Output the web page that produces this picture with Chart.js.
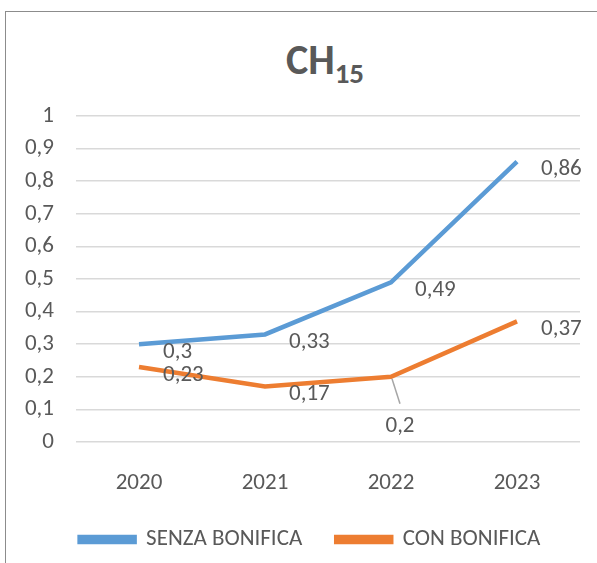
<!DOCTYPE html>
<html>
<head>
<meta charset="utf-8">
<script src="https://cdn.jsdelivr.net/npm/chart.js@4"></script>
<style>
  html, body { margin: 0; padding: 0; background: #fff; }
  #wrap { position: relative; width: 597px; height: 563px; overflow: hidden; }
  #frame { position: absolute; left: 5px; top: 11px; width: 640px; height: 600px; border: 1.5px solid #8c8c8c; box-sizing: border-box; }
  #title { position: absolute; left: 0; width: 650px; top: 34px; text-align: center; font-family: Carlito, Lato, sans-serif; font-weight: bold; font-size: 42px; color: #595959; }
  #title sub { font-size: 29px; vertical-align: -9px; line-height: 0; }
  canvas { position: absolute; left: 0; top: 0; }
</style>
</head>
<body>
<div id="wrap">
  <div id="frame"></div>
  <div id="title">CH<sub>15</sub></div>
  <canvas id="ch" width="597" height="563"></canvas>
</div>
<script>
// chart data
const years = ['2020', '2021', '2022', '2023'];
const senzaBonifica = [0.3, 0.33, 0.49, 0.86];
const conBonifica = [0.23, 0.17, 0.2, 0.37];
const yTicks = [0, 0.1, 0.2, 0.3, 0.4, 0.5, 0.6, 0.7, 0.8, 0.9, 1];

const textColor = '#595959';
const fontFamily = 'Carlito, Lato, sans-serif';
const fontSize = 23;

// numbers with comma as decimal separator
function itNum(v) {
    return String(Math.round(v * 100) / 100).replace('.', ',');
}

// value labels to the right of each point
const valueLabels = {
    id: 'valueLabels',
    afterLayout(chart) {
        // center the legend under the plot instead of the whole canvas
        chart.legend.left = 40;
    },
    afterDatasetsDraw(chart) {
        const ctx = chart.ctx;
        ctx.save();
        ctx.font = fontSize + 'px ' + fontFamily;
        ctx.fillStyle = textColor;
        ctx.textBaseline = 'middle';
        ctx.textAlign = 'left';
        chart.data.datasets.forEach((ds, i) => {
            const meta = chart.getDatasetMeta(i);
            meta.data.forEach((pt, j) => {
                const txt = itNum(ds.data[j]);
                if (i === 1 && j === 2) {
                    // moved below the line, with a leader line
                    ctx.strokeStyle = '#a6a6a6';
                    ctx.lineWidth = 1.5;
                    ctx.beginPath();
                    ctx.moveTo(pt.x + 1, pt.y + 2);
                    ctx.lineTo(pt.x + 9, pt.y + 27);
                    ctx.stroke();
                    ctx.textAlign = 'center';
                    ctx.fillText(txt, pt.x + 9, pt.y + 49);
                    ctx.textAlign = 'left';
                } else {
                    ctx.fillText(txt, pt.x + 24, pt.y + 8);
                }
            });
        });
        ctx.restore();
    }
};

new Chart(document.getElementById('ch'), {
    type: 'line',
    data: {
        labels: years,
        datasets: [
            {
                label: 'SENZA BONIFICA',
                data: senzaBonifica,
                borderColor: '#5B9BD5',
                backgroundColor: '#5B9BD5',
                borderWidth: 4.5,
                pointRadius: 0,
                tension: 0
            },
            {
                label: 'CON BONIFICA',
                data: conBonifica,
                borderColor: '#ED7D31',
                backgroundColor: '#ED7D31',
                borderWidth: 4.5,
                pointRadius: 0,
                tension: 0
            }
        ]
    },
    options: {
        responsive: false,
        animation: false,
        layout: { padding: { left: 10, right: 17, top: 116, bottom: 2 } },
        plugins: {
            title: { display: false },
            tooltip: { enabled: false },
            legend: {
                position: 'bottom',
                labels: {
                    boxWidth: 55,
                    boxHeight: 5,
                    padding: 34,
                    color: textColor,
                    font: { family: fontFamily, size: fontSize }
                }
            }
        },
        scales: {
            x: {
                offset: true,
                grid: { display: false, drawTicks: false },
                border: { display: false },
                ticks: { color: textColor, font: { family: fontFamily, size: fontSize }, padding: 27 },
                afterFit(s) { s.height = 52; }
            },
            y: {
                min: 0,
                max: 1,
                afterBuildTicks(s) { s.ticks = yTicks.map(v => ({ value: v })); },
                grid: { color: '#d9d9d9', lineWidth: 1.5, drawTicks: false },
                border: { display: false },
                ticks: {
                    color: textColor,
                    font: { family: fontFamily, size: fontSize },
                    padding: 22,
                    callback: v => itNum(v)
                },
                afterFit(s) { s.width = 66; }
            }
        }
    },
    plugins: [valueLabels]
});
</script>
</body>
</html>
